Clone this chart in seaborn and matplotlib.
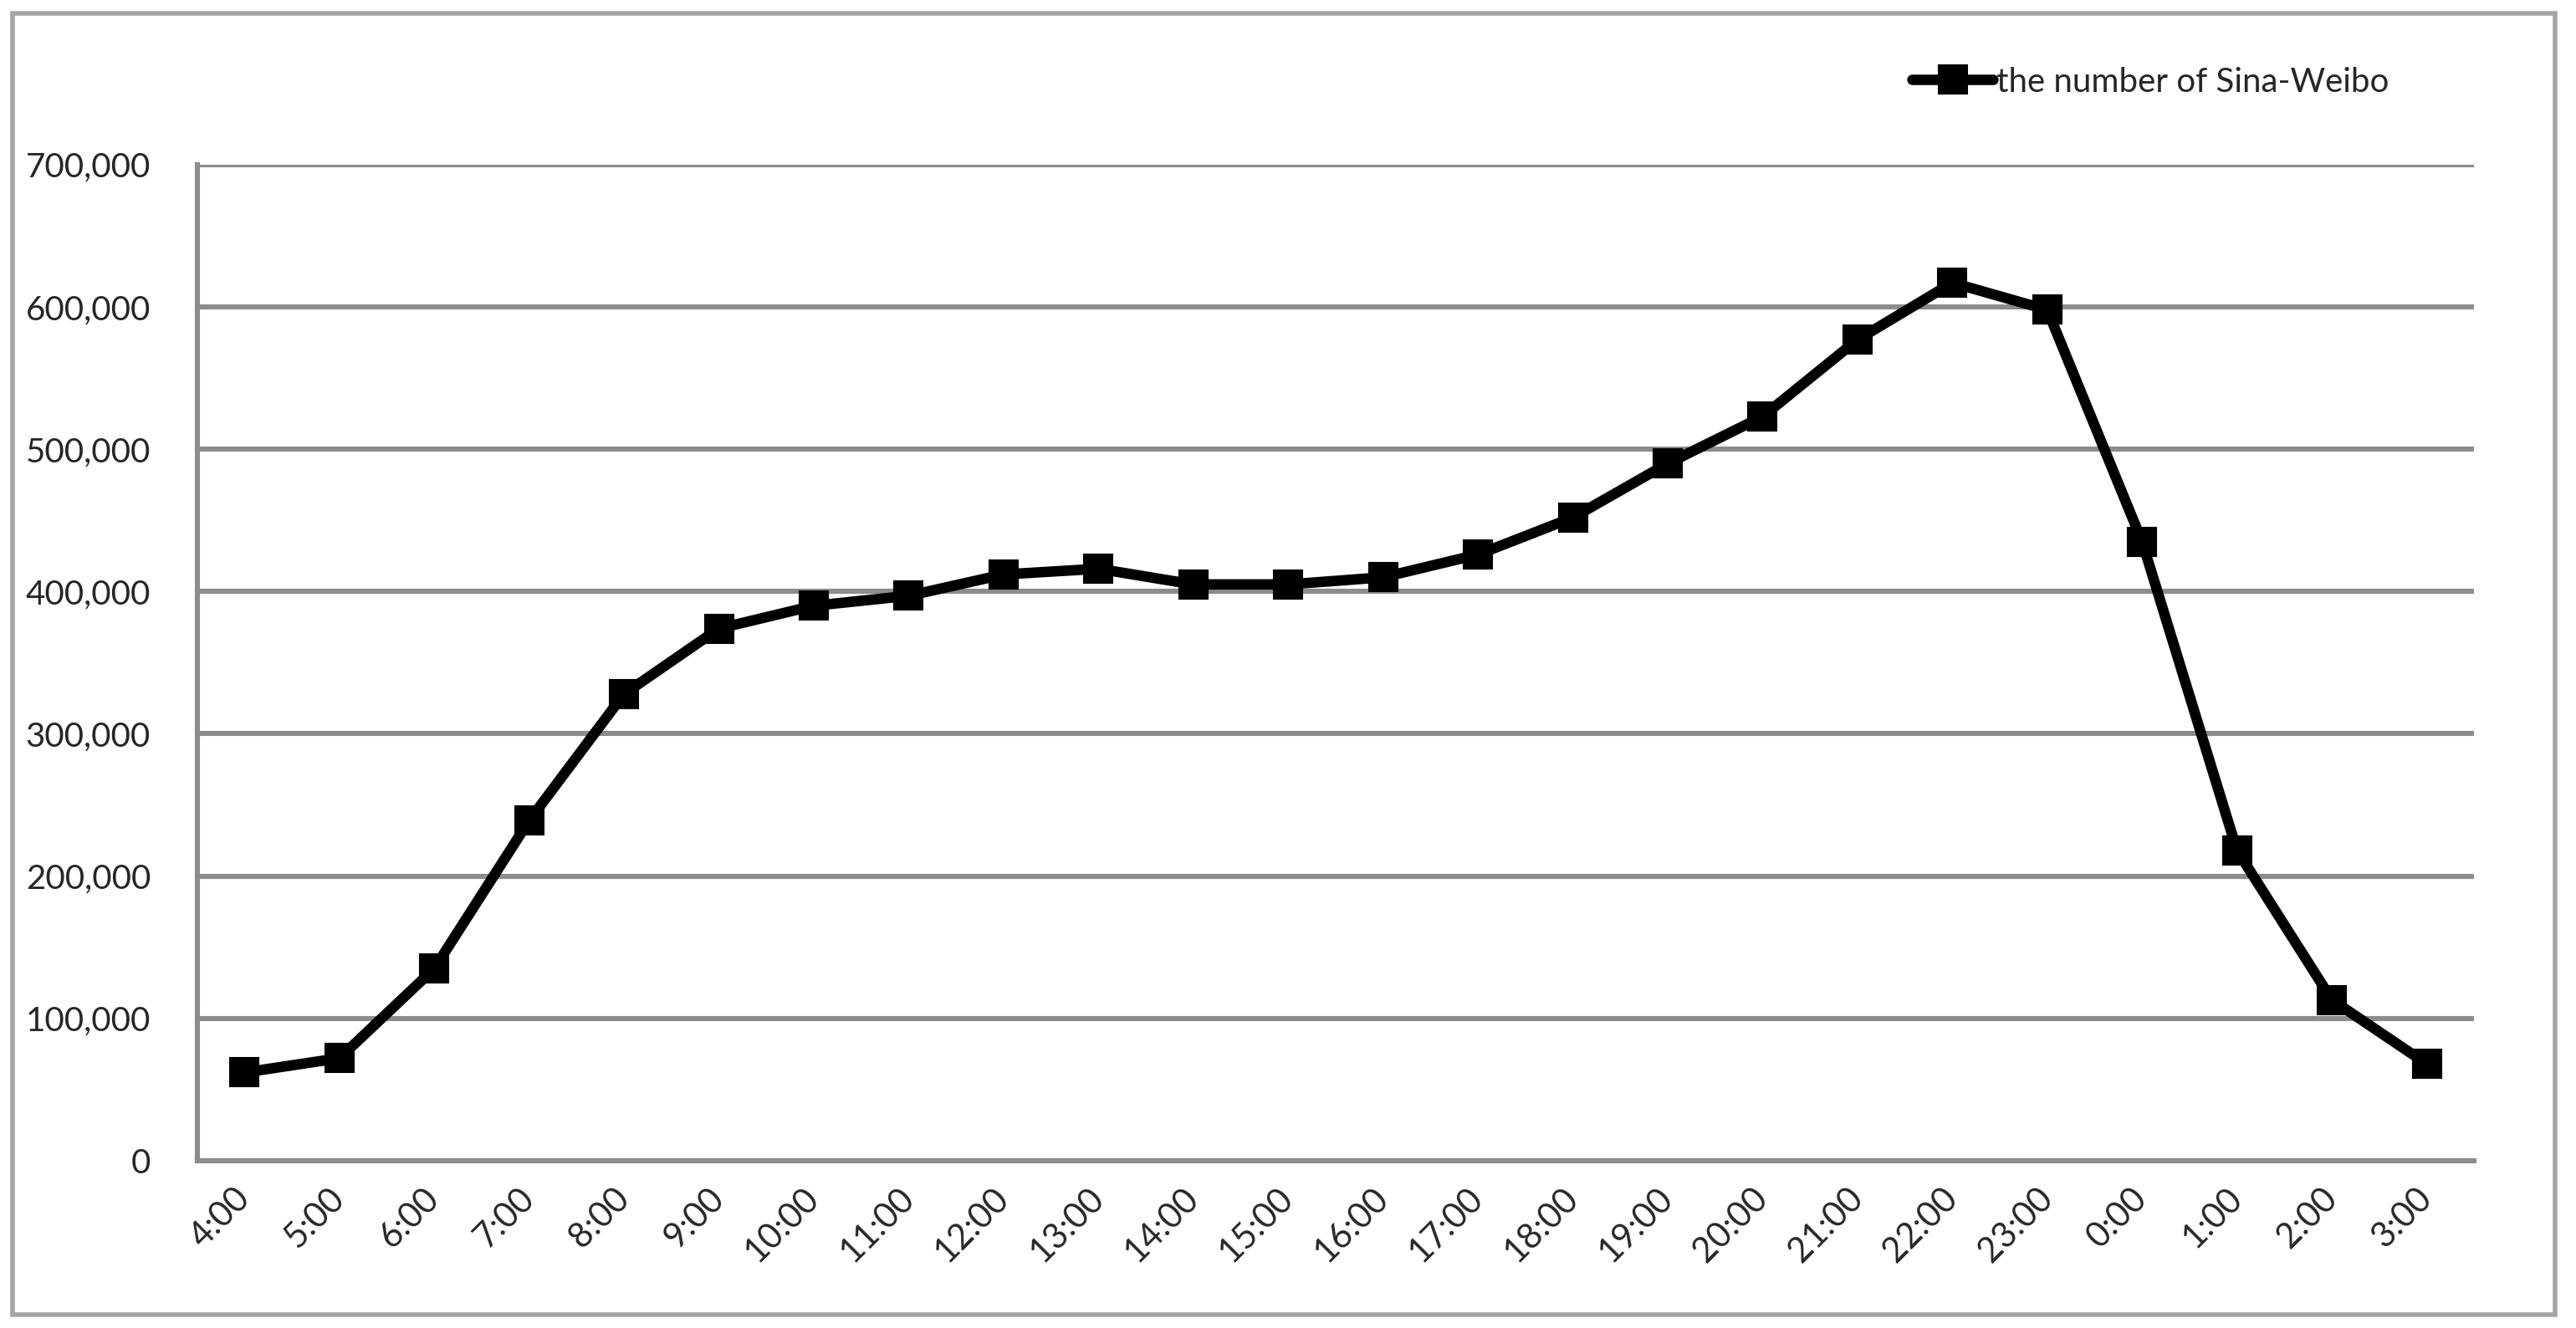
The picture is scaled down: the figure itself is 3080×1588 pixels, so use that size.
import numpy as np
import pandas as pd
import matplotlib
matplotlib.use("Agg")
import matplotlib.pyplot as plt
import matplotlib.ticker as mticker
from matplotlib.patches import Rectangle
import seaborn as sns

hours = ["4:00", "5:00", "6:00", "7:00", "8:00", "9:00", "10:00", "11:00",
         "12:00", "13:00", "14:00", "15:00", "16:00", "17:00", "18:00", "19:00",
         "20:00", "21:00", "22:00", "23:00", "0:00", "1:00", "2:00", "3:00"]
weibo_count = [62000, 72000, 135000, 239000, 328000, 374000, 390000, 397000,
               412000, 416000, 405000, 405000, 410000, 426000, 452000, 490000,
               523000, 577000, 617000, 598000, 435000, 218000, 113000, 68000]
y_ticks = [0, 100000, 200000, 300000, 400000, 500000, 600000, 700000]
series_name = "the number of Sina-Weibo"

sns.set_style("white")
plt.rcParams['font.family'] = ['Lato', 'DejaVu Sans']
fs = 14.5

data = pd.DataFrame({"pos": np.arange(len(hours)), "count": weibo_count})

fig = plt.figure(figsize=(15.4, 7.94), dpi=200)
ax = fig.add_axes([0.0765, 0.126, 0.884, 0.750])

grid_color = "#8c8c8c"
sns.lineplot(data=data, x="pos", y="count", ax=ax, color="black", linewidth=4.5,
             marker="s", markersize=12, markeredgecolor="black", label=series_name,
             zorder=3)

ax.set_xlim(-0.5, len(hours) - 0.5)
ax.set_ylim(0, 700000)
ax.set_yticks(y_ticks)
ax.yaxis.set_major_formatter(mticker.FuncFormatter(lambda v, p: f"{int(v):,}"))
ax.yaxis.grid(True, color=grid_color, linewidth=2.2)
ax.set_axisbelow(True)

# labels sit at category centres, tick marks at the category edges
ax.set_xticks(np.arange(len(hours)))
ax.set_xticklabels(hours, rotation=45, ha="right", va="center", rotation_mode="anchor")
ax.set_xticks(np.arange(len(hours) + 1) - 0.5, minor=True)
ax.tick_params(axis="x", which="major", length=0, pad=14, labelsize=15)
ax.tick_params(axis="x", which="minor", length=6, width=2, color=grid_color, direction="out")
ax.tick_params(axis="y", length=6, width=2, color=grid_color, direction="out", pad=14, labelsize=fs)
ax.set_xlabel("")
ax.set_ylabel("")

for side in ["top", "right"]:
    ax.spines[side].set_visible(False)
for side in ["left", "bottom"]:
    ax.spines[side].set_color(grid_color)
    ax.spines[side].set_linewidth(2.2)

ax.legend(loc="center right", bbox_to_anchor=(0.97, 1.083), frameon=False,
          fontsize=fs, handlelength=2.4, handletextpad=0.1, borderpad=0)

fig.patches.append(Rectangle((0.005, 0.01), 0.987, 0.98, transform=fig.transFigure,
                             fill=False, edgecolor="#a6a6a6", linewidth=2))

plt.savefig("out.png", dpi=200)
